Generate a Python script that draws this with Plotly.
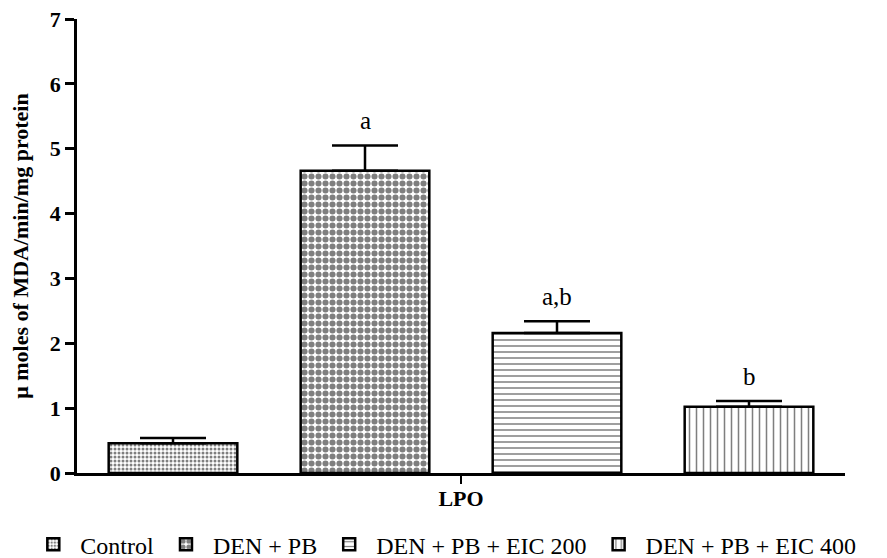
import plotly.graph_objects as go

categories = ["LPO"]
groups = ["Control", "DEN + PB", "DEN + PB + EIC 200", "DEN + PB + EIC 400"]
means = [0.46, 4.66, 2.16, 1.02]
sems = [0.08, 0.39, 0.18, 0.09]
sig_labels = ["", "a", "a,b", "b"]
y_ticks = [0, 1, 2, 3, 4, 5, 6, 7]

patterns = [
    dict(shape=".", size=4, solidity=0.45, fgcolor="black", bgcolor="white"),
    dict(shape=".", size=7, solidity=0.6, fgcolor="black", bgcolor="white"),
    dict(shape="-", size=6, solidity=0.25, fgcolor="black", bgcolor="white"),
    dict(shape="|", size=7, solidity=0.22, fgcolor="black", bgcolor="white"),
]

SERIF = "Liberation Serif, Times New Roman, serif"

fig = go.Figure()
for i, g in enumerate(groups):
    fig.add_trace(go.Bar(
        name=g,
        x=categories,
        y=[means[i]],
        error_y=dict(type="data", array=[sems[i]], arrayminus=[0], symmetric=False,
                     color="black", thickness=2.5, width=33),
        marker=dict(color="white", pattern=patterns[i], line=dict(color="black", width=2.5)),
    ))

n = len(groups)
bargroupgap = 0.33
for i, lab in enumerate(sig_labels):
    if not lab:
        continue
    xpos = -0.5 + (i + 0.5) / n
    fig.add_annotation(x=xpos, y=means[i] + sems[i], xref="x", yref="y", text=lab,
                       showarrow=False, yanchor="bottom", yshift=9,
                       font=dict(family=SERIF, size=25, color="black"))

# the page places the figure 8px from the top-left corner of the window
fig.update_layout(
    width=879, height=550,
    margin=dict(l=69, r=42, t=11, b=85, autoexpand=False),
    paper_bgcolor="white", plot_bgcolor="white",
    barmode="group", bargap=0, bargroupgap=bargroupgap,
    showlegend=True,
    legend=dict(orientation="h", x=-0.066, xanchor="left", y=-0.108, yanchor="top",
                font=dict(family=SERIF, size=24, color="black"), traceorder="normal",
                itemwidth=44),
    xaxis=dict(range=[-0.5, 0.5], showline=True, linecolor="black", linewidth=2.5,
               ticks="outside", ticklen=8, tickwidth=2, tickcolor="black",
               ticklabelstandoff=-4,
               tickfont=dict(family=SERIF, size=22, color="black", weight="bold"),
               showgrid=False, zeroline=False),
    yaxis=dict(range=[0, 7], tickvals=y_ticks, showline=True, linecolor="black", linewidth=2.5,
               ticks="outside", ticklen=9, tickwidth=2.5, tickcolor="black",
               ticklabeloverflow="allow",
               tickfont=dict(family=SERIF, size=22, color="black", weight="bold"),
               showgrid=False, zeroline=False,
               title=dict(text="μ moles of MDA/min/mg protein", standoff=24,
                          font=dict(family=SERIF, size=22, color="black", weight="bold"))),
)

fig.write_html("out.html")
